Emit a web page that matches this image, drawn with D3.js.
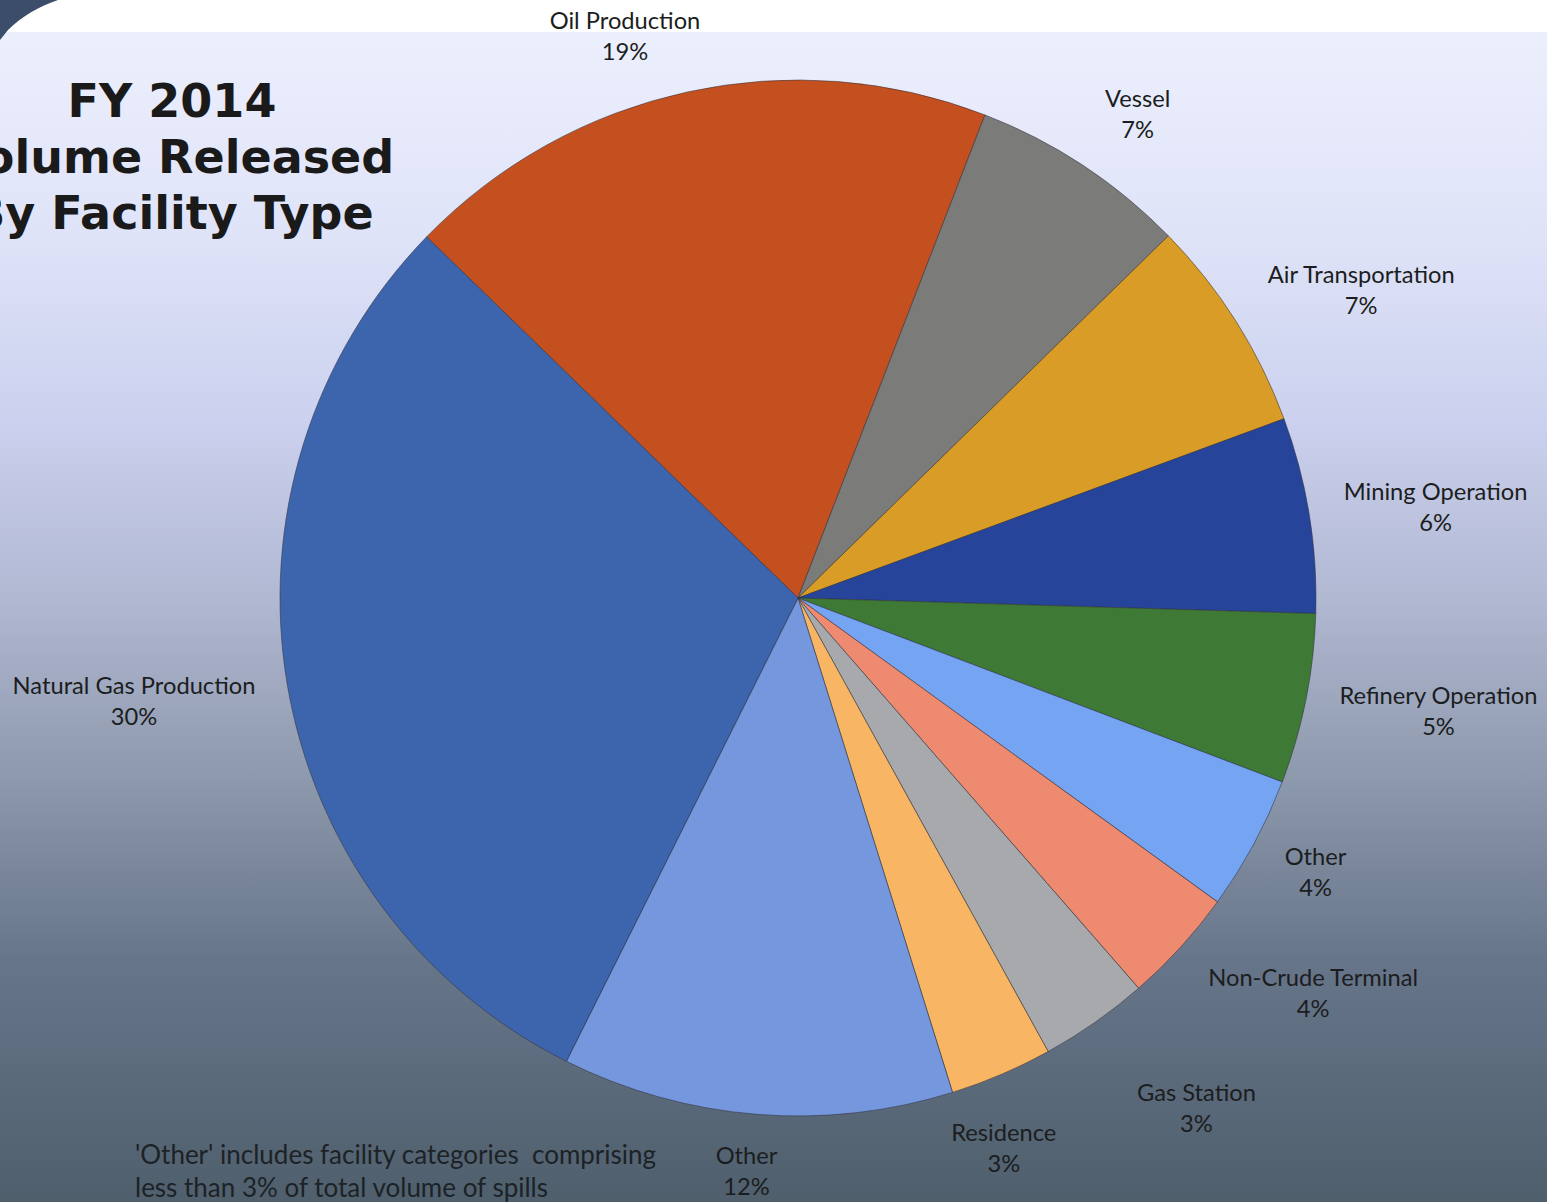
<!DOCTYPE html>
<html>
<head>
<meta charset="utf-8">
<script src="https://cdn.jsdelivr.net/npm/d3@7"></script>
<style>
  html, body { margin: 0; padding: 0; overflow: hidden; }
  svg { display: block; }
</style>
</head>
<body>
<svg id="chart" width="1547" height="1202"></svg>
<script>
// data (share of volume released, %)
const categories = ["Oil Production", "Vessel", "Air Transportation", "Mining Operation",
  "Refinery Operation", "Other", "Non-Crude Terminal", "Gas Station", "Residence",
  "Other", "Natural Gas Production"];
const shares = [18.6, 6.8, 6.7, 6.1, 5.3, 4.2, 3.6, 3.4, 3.2, 12.2, 29.9];
const sliceColors = ["#c5501f", "#7b7b79", "#d99c26", "#25449a", "#3e7a35", "#74a4f2",
  "#ee8a70", "#a7a9ac", "#f8b563", "#7597dd", "#3d65ae"];
const titleLines = ["FY 2014", "Volume Released", "By Facility Type"];
const noteLines = ["'Other' includes facility categories  comprising",
  "less than 3% of total volume of spills"];

// label fine-tuning (px), Excel style placement is not purely geometric
const labelNudge = [[-40, 2], [20, -2], [21, 0], [6, 1], [6, 0], [8, -1],
  [33, 5], [50, 36], [-30, 18], [-5, -3], [-4, 6]];

const W = 1547, H = 1202;
const cx = 798, cy = 598, radius = 518;
const labelFont = "Lato, 'Open Sans', sans-serif";

const svg = d3.select("#chart");
const defs = svg.append("defs");

// background gradient
const bg = defs.append("linearGradient")
  .attr("id", "bg").attr("x1", 0).attr("y1", 0).attr("x2", 0).attr("y2", 1);
[[0, "#eef1fd"], [0.2, "#dfe3f8"], [0.35, "#cbd1ee"], [0.5, "#b1b8d2"],
 [0.65, "#8c98ab"], [0.8, "#67758a"], [1, "#4f5f6c"]].forEach(s => {
  bg.append("stop").attr("offset", s[0]).attr("stop-color", s[1]);
});

svg.append("rect").attr("width", W).attr("height", H).attr("fill", "url(#bg)");
svg.append("rect").attr("width", W).attr("height", 32).attr("fill", "#ffffff");

// dark frame corner at top left
svg.append("path")
  .attr("d", "M0,0 L58,0 C40,6 22,16 8,30 L0,40 Z")
  .attr("fill", "#3c4d6a");

// pie
const pie = d3.pie().sort(null).value(d => d)
  .startAngle(-45.8 * Math.PI / 180)
  .endAngle(-45.8 * Math.PI / 180 + 2 * Math.PI);
const arc = d3.arc().innerRadius(0).outerRadius(radius);
const arcs = pie(shares);
const total = d3.sum(shares);

const g = svg.append("g").attr("transform", `translate(${cx},${cy})`);

g.selectAll("path.slice")
  .data(arcs)
  .enter()
  .append("path")
  .attr("class", "slice")
  .attr("d", arc)
  .attr("fill", (d, i) => sliceColors[i])
  .attr("stroke", "rgba(50,50,60,0.55)")
  .attr("stroke-width", 1);

// outside-end labels
const gap = 30;
const lineH = 31;
const labels = g.selectAll("g.label")
  .data(arcs)
  .enter()
  .append("g")
  .attr("class", "label");

labels.each(function (d, i) {
  const lab = d3.select(this);
  const t = lab.append("text")
    .attr("text-anchor", "middle")
    .style("font-family", labelFont)
    .style("font-size", "23.7px")
    .attr("fill", "#1b1d20");
  t.append("tspan").attr("x", 0).attr("dy", "-0.15em").text(categories[i]);
  t.append("tspan").attr("x", 0).attr("dy", lineH)
    .text(Math.round(d.data / total * 100) + "%");

  const bb = this.getBBox();
  const mid = (d.startAngle + d.endAngle) / 2;
  const sx = Math.sin(mid), sy = -Math.cos(mid);
  const px = (radius + gap) * sx + sx * bb.width / 2 + labelNudge[i][0];
  const py = (radius + gap) * sy + sy * bb.height / 2 + labelNudge[i][1];
  // center the two-line block on (px, py)
  const boxCy = bb.y + bb.height / 2;
  lab.attr("transform", `translate(${px},${py - boxCy})`);
});

// title
svg.append("text")
  .attr("text-anchor", "middle")
  .style("font-family", "'DejaVu Sans', Verdana, sans-serif")
  .style("font-weight", "bold")
  .style("font-size", "46px")
  .attr("fill", "#1a1a1a")
  .selectAll("tspan")
  .data(titleLines)
  .enter()
  .append("tspan")
  .attr("x", 172)
  .attr("y", (d, i) => 117 + i * 56)
  .text(d => d);

// footnote
svg.append("text")
  .style("font-family", labelFont)
  .style("font-size", "26px")
  .attr("fill", "#1c2226")
  .selectAll("tspan")
  .data(noteLines)
  .enter()
  .append("tspan")
  .attr("x", 135)
  .attr("y", (d, i) => 1164 + i * 33)
  .attr("xml:space", "preserve")
  .style("white-space", "pre")
  .text(d => d);
</script>
</body>
</html>
